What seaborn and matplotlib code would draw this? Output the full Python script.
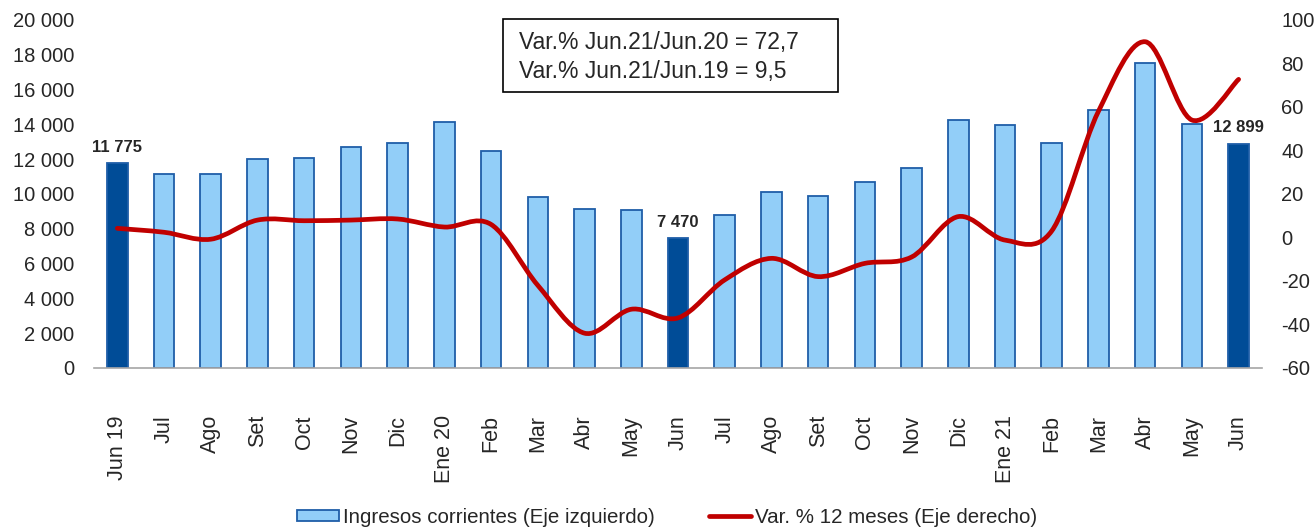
import numpy as np
import pandas as pd
import matplotlib
matplotlib.use("Agg")
import matplotlib.pyplot as plt
import seaborn as sns
from matplotlib.path import Path
from matplotlib.patches import PathPatch, Patch, Rectangle
from matplotlib.lines import Line2D
from matplotlib.ticker import FuncFormatter, FixedLocator

# Data
periodos = ["2019-06", "2019-07", "2019-08", "2019-09", "2019-10", "2019-11", "2019-12",
            "2020-01", "2020-02", "2020-03", "2020-04", "2020-05", "2020-06", "2020-07",
            "2020-08", "2020-09", "2020-10", "2020-11", "2020-12", "2021-01", "2021-02",
            "2021-03", "2021-04", "2021-05", "2021-06"]
etiquetas = ["Jun 19", "Jul", "Ago", "Set", "Oct", "Nov", "Dic", "Ene 20", "Feb", "Mar",
             "Abr", "May", "Jun", "Jul", "Ago", "Set", "Oct", "Nov", "Dic", "Ene 21",
             "Feb", "Mar", "Abr", "May", "Jun"]
ingresos = [11775, 11150, 11170, 12010, 12080, 12680, 12920, 14150, 12470, 9830,
            9160, 9060, 7470, 8810, 10100, 9890, 10670, 11510, 14250, 13970,
            12930, 14850, 17510, 14020, 12899]
var_12m = [4.2, 2.4, -0.8, 8.0, 7.7, 8.0, 8.5, 4.8, 6.0, -22.0,
           -44.0, -33.0, -37.0, -19.5, -9.6, -18.0, -11.9, -9.0, 9.6, -1.2,
           3.0, 58.0, 90.0, 54.0, 72.7]
resaltados = [0, 12, 24]
nota = ["Var.% Jun.21/Jun.20 = 72,7", "Var.% Jun.21/Jun.19 = 9,5"]

claro = "#92CEF8"
oscuro = "#004C97"
borde = "#1F5EA8"
rojo = "#C00000"

df = pd.DataFrame({"periodo": periodos, "ingresos": ingresos})
df["tipo"] = ["resaltado" if i in resaltados else "normal" for i in range(len(df))]

sns.set_style("white")
plt.rcParams["font.family"] = ["Liberation Sans", "DejaVu Sans"]
plt.rcParams["axes.unicode_minus"] = False

fig = plt.figure(figsize=(13.14, 5.30), dpi=100)
ax = fig.add_axes([0.0715, 0.3057, 0.8889, 0.6566])

sns.barplot(data=df, x="periodo", y="ingresos", hue="tipo",
            palette={"normal": claro, "resaltado": oscuro}, dodge=False, saturation=1,
            width=0.44, edgecolor=borde, linewidth=1.3, legend=False, ax=ax)

ax.set_xlim(-0.5, len(periodos) - 0.5)
ax.set_ylim(0, 20000)
ax.set_yticks(np.arange(0, 20001, 2000))
ax.yaxis.set_major_formatter(FuncFormatter(lambda v, p: f"{v:,.0f}".replace(",", " ")))
ax.set_xticks(range(len(periodos)))
ax.set_xticklabels(etiquetas, rotation=90, fontsize=15.5)
ax.xaxis.set_minor_locator(FixedLocator(np.arange(-0.5, len(periodos), 1.0)))
ax.tick_params(axis="x", which="major", length=0, pad=34)
ax.tick_params(axis="x", which="minor", length=7, color="#A6A6A6", width=1.2)
ax.tick_params(axis="y", length=0, pad=14, labelsize=14.5)
ax.set_xlabel("")
ax.set_ylabel("")
for s in ["top", "left", "right"]:
    ax.spines[s].set_visible(False)
ax.spines["bottom"].set_color("#A6A6A6")
ax.spines["bottom"].set_linewidth(1.2)

# data labels on highlighted bars
for i in resaltados:
    ax.annotate(f"{ingresos[i]:,}".replace(",", " "), (i, ingresos[i]),
                xytext=(0, 6), textcoords="offset points", ha="center", va="bottom",
                fontsize=12, fontweight="bold")

# right axis: smoothed line (Catmull-Rom -> cubic Bezier)
ax2 = ax.twinx()
ax2.set_ylim(-60, 100)
ax2.set_yticks(np.arange(-60, 101, 20))
ax2.tick_params(axis="y", length=0, pad=14, labelsize=14.5)
for s in ax2.spines.values():
    s.set_visible(False)

x = np.arange(len(var_12m), dtype=float)
y = np.array(var_12m, dtype=float)
pts = np.column_stack([x, y])
verts = [pts[0]]
codes = [Path.MOVETO]
for i in range(len(pts) - 1):
    p0 = pts[i - 1] if i > 0 else pts[i]
    p1 = pts[i]
    p2 = pts[i + 1]
    p3 = pts[i + 2] if i + 2 < len(pts) else pts[i + 1]
    c1 = p1 + (p2 - p0) / 6.0
    c2 = p2 - (p3 - p1) / 6.0
    verts += [c1, c2, p2]
    codes += [Path.CURVE4] * 3
ax2.add_patch(PathPatch(Path(verts, codes), facecolor="none", edgecolor=rojo,
                        linewidth=3.4, capstyle="round", joinstyle="round"))
ax2.set_xlim(-0.5, len(periodos) - 0.5)

# note box
fig.add_artist(Rectangle((0.3828, 0.8264), 0.255, 0.1377, transform=fig.transFigure,
                         facecolor="white", edgecolor="black", linewidth=1.2))
fig.text(0.395, 0.919, nota[0], fontsize=16.5, va="center", ha="left")
fig.text(0.395, 0.866, nota[1], fontsize=16.5, va="center", ha="left")

# legend
handles = [Patch(facecolor=claro, edgecolor=borde, linewidth=1.3),
           Line2D([0], [0], color=rojo, linewidth=3.4)]
labels = ["Ingresos corrientes (Eje izquierdo)", "Var. % 12 meses (Eje derecho)"]
fig.legend(handles, labels, loc="center", bbox_to_anchor=(0.5076, 0.024), ncol=2,
           frameon=False, fontsize=14.8, handlelength=2.05, handleheight=0.45,
           handletextpad=0.2, columnspacing=2.6, borderpad=0)

fig.savefig("out.png", dpi=100)
